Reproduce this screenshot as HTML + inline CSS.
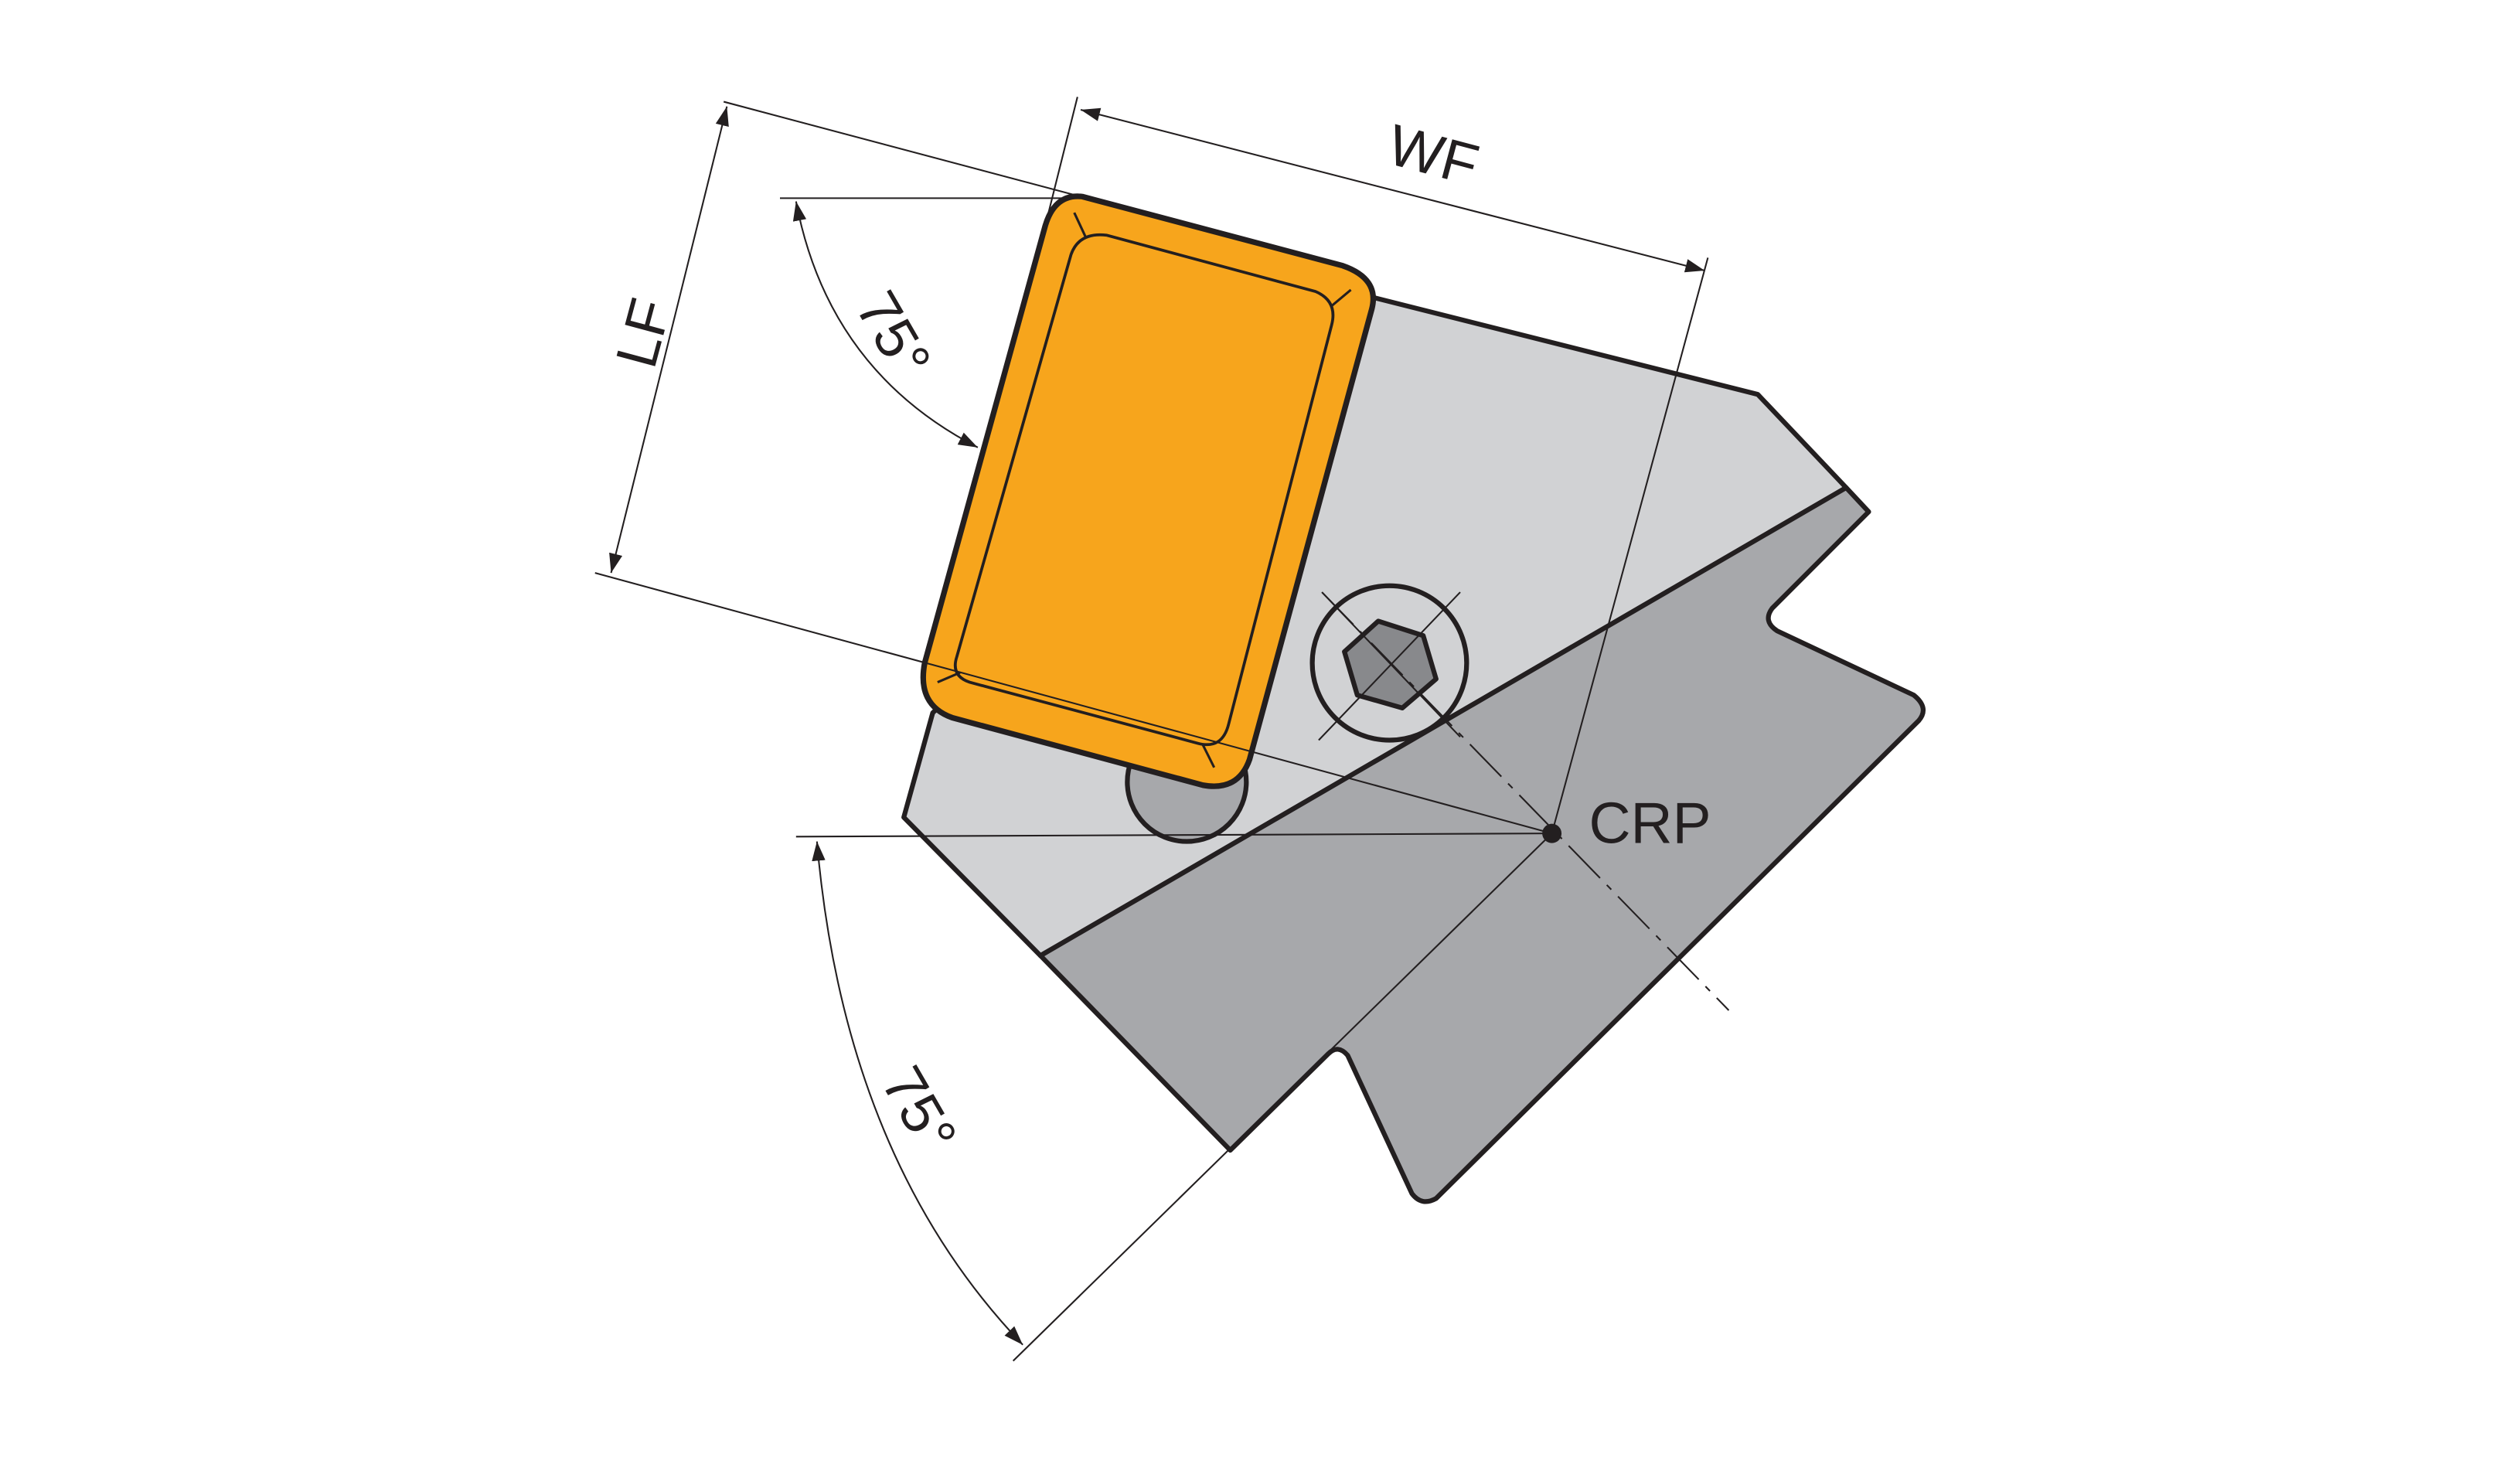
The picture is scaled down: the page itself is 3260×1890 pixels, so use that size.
<!DOCTYPE html>
<html><head><style>html,body{margin:0;padding:0;background:#fff}svg{display:block}</style></head>
<body>
<svg width="3260" height="1890" viewBox="0 0 1567 908" xmlns="http://www.w3.org/2000/svg">
<defs>
<marker id="a" viewBox="0 0 10 10" refX="10" refY="5" markerWidth="12" markerHeight="12" markerUnits="userSpaceOnUse" orient="auto-start-reverse">
<path d="M0,1.5 L10,5 L0,8.5 z" fill="#231f20"/></marker>
</defs>
<g stroke="#231f20" stroke-linejoin="round">
<polygon points="580,443 562,508 647,594 1148,303 1093,245 855,185" fill="#d1d2d4" stroke-width="3"/>
<path d="M647,594 L765,715 L826,655 Q832,649 838,656 L878,742 Q884,750 893,745 L1193,448 Q1200,440 1190,432 L1105,392 Q1096,386 1102,378 L1162,318 L1148,303 Z" fill="#a7a8ab" stroke-width="3"/>
<circle cx="738" cy="486" r="37" fill="#a7a8ab" stroke-width="3"/>
<circle cx="864" cy="412" r="48" fill="#d1d2d4" stroke-width="3"/>
<polygon points="857,386 885,395 893,422 872,440 844,432 836,405" fill="#88898c" stroke-width="3"/>
<line x1="822" y1="368" x2="908" y2="458" stroke-width="1"/>
<line x1="908" y1="368" x2="820" y2="460" stroke-width="1"/>
<path d="M673,122 L835,165 Q858,173 853,192 L777,472 Q770,492 748,488 L592,446 Q570,438 575,412 L650,140 Q656,120 673,122 Z" fill="#f7a51c" stroke-width="3.5"/>
<path d="M688,146 L818,181 Q832,187 828,202 L764,450 Q760,466 745,462 L603,424 Q591,420 595,408 L666,158 Q671,144 688,146 Z" fill="none" stroke-width="1.8"/>
<g stroke-width="1.5">
<line x1="668" y1="132" x2="675" y2="147"/><line x1="828" y1="190" x2="840" y2="180"/>
<line x1="583" y1="424" x2="597" y2="418"/><line x1="748" y1="463" x2="755" y2="477"/>
</g>
<g stroke-width="1" fill="none">
<line x1="450" y1="63" x2="672" y2="122"/>
<line x1="370" y1="356" x2="965" y2="518"/>
<line x1="452" y1="66" x2="380" y2="356" marker-start="url(#a)" marker-end="url(#a)"/>
<line x1="670" y1="60" x2="652" y2="132"/>
<line x1="1062" y1="160" x2="965" y2="518"/>
<line x1="672" y1="68" x2="1060" y2="168" marker-start="url(#a)" marker-end="url(#a)"/>
<line x1="485" y1="123" x2="672" y2="123"/>
<path d="M495,125 Q515,230 608,278" marker-start="url(#a)" marker-end="url(#a)"/>
<line x1="495" y1="520" x2="965" y2="518"/>
<line x1="965" y1="518" x2="630" y2="846"/>
<path d="M508,523 Q525,720 636,836" marker-start="url(#a)" marker-end="url(#a)"/>
<line x1="822" y1="368" x2="1075" y2="628" stroke-dasharray="28,6,4,6"/>
</g>
<circle cx="965" cy="518" r="6" fill="#231f20" stroke="none"/>
</g>
<g font-family="Liberation Sans, sans-serif" fill="#231f20" font-size="36">
<text x="988" y="524">CRP</text>
<text transform="translate(412,210) rotate(-75)" text-anchor="middle">LF</text>
<text transform="translate(888,108) rotate(15)" text-anchor="middle">WF</text>
<text transform="translate(545,214) rotate(60)" text-anchor="middle">75°</text>
<text transform="translate(561,696) rotate(60)" text-anchor="middle">75°</text>
</g>
</svg>
</body></html>
